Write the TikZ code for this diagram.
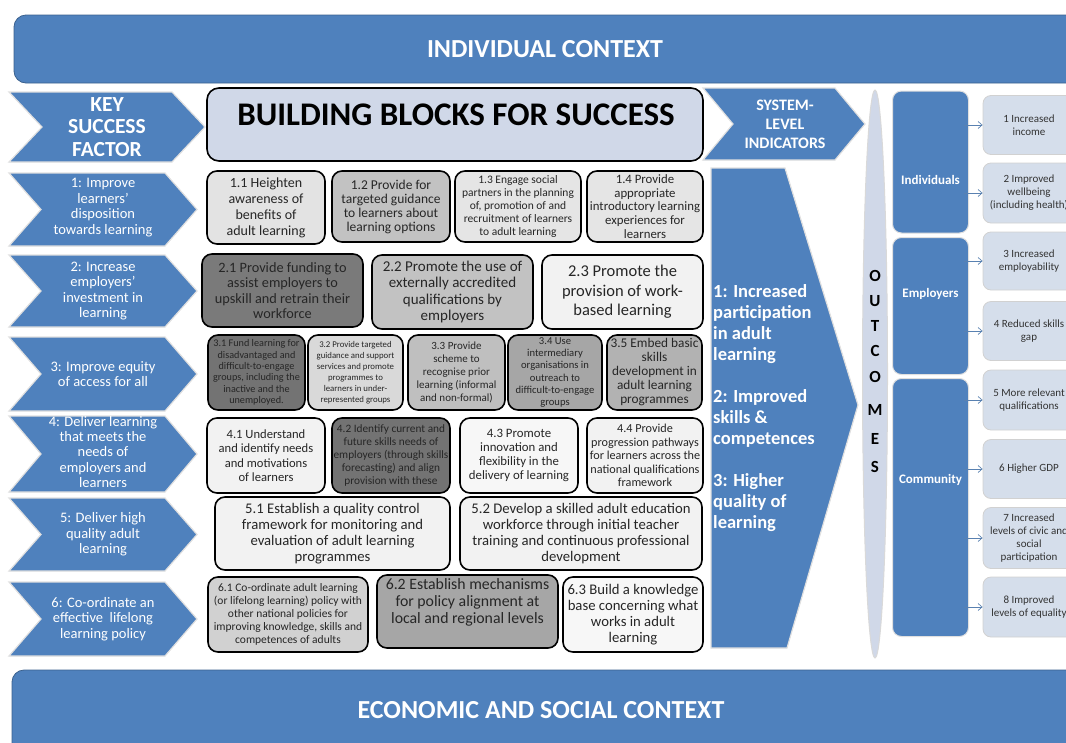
\documentclass[tikz,border=0pt]{standalone}
\usepackage{fontspec}
\setmainfont{Carlito}
\usetikzlibrary{arrows.meta}
\definecolor{obl}{HTML}{4F81BD}
\definecolor{lbl}{HTML}{D0D8E8}
\definecolor{obx}{HTML}{D5DEEB}
\definecolor{txt}{HTML}{262626}
\newcommand\fs[2]{\fontsize{#1}{#2}\selectfont}
\tikzset{
  x=1pt, y=-1pt,
  blk/.style={draw=black, line width=1.6pt, rounded corners=10pt, inner sep=1pt, align=center, text=txt},
  chev/.style={fill=obl, draw=black!12, line width=1.2pt},
  wtxt/.style={text=white, align=center, inner sep=0pt},
  catbox/.style={fill=obl, draw=black!12, line width=1pt, rounded corners=9pt},
  cattxt/.style={text=white, font=\bfseries\fs{13}{15}},
  outbox/.style={fill=obx, draw=black!18, line width=0.8pt, rounded corners=8pt, text=black!80, align=center, font=\fs{11}{13}},
  oarr/.style={draw=obl!80!gray, line width=0.7pt, -{Straight Barb[length=4pt,width=7pt]}},
  banner/.style={fill=obl, draw=obl!75!black, line width=0.8pt, rounded corners=12pt}
}
% name x1 y1 x2 y2 fill font text
\newcommand\blk[8]{\node[blk,fill=#6,minimum width={(#4-#2)*1pt},minimum height={(#5-#3)*1pt},font=#7] (#1) at ({(#2+#4)/2},{(#3+#5)/2}) {#8};}
% name x1 y1 x2 y2 depth
\newcommand\chevr[6]{\draw[chev] (#2,#3) -- ({#4-#6},#3) -- (#4,{(#3+#5)/2}) -- ({#4-#6},#5) -- (#2,#5) -- ({#2+#6},{(#3+#5)/2}) -- cycle;
  \coordinate (#1) at ({(#2+#4)/2},{(#3+#5)/2});}
\begin{document}
\begin{tikzpicture}
\useasboundingbox (0,0) rectangle (1066,742);
\clip (0,0) rectangle (1066,742);

% context banners
\draw[banner] (14,15) rectangle (1090,83);
\node[wtxt, font=\bfseries\fs{26}{30}] (indctx) at (545,49) {INDIVIDUAL CONTEXT};
\draw[banner] (12,670) rectangle (1090,760);
\node[wtxt, font=\bfseries\fs{26}{30}] (ecoctx) at (541,710) {ECONOMIC AND SOCIAL CONTEXT};

% header row
\chevr{ksfc}{9}{92}{205}{162}{33}
\node[wtxt, font=\bfseries\fs{21.5}{22.5}] (ksf) at (ksfc) {KEY\\SUCCESS\\FACTOR};
\node[blk, fill=lbl, minimum width=496pt, minimum height=73pt, rounded corners=12pt] (bbs) at (455,124.5) {};
\node[font=\bfseries\fs{33}{36}, text=black, inner sep=0pt] (bbst) at (456,115) {BUILDING BLOCKS FOR SUCCESS};
\chevr{slic}{703}{88}{865}{160}{30}
\node[wtxt, font=\bfseries\fs{16}{19}] (sli) at (785,124) {SYSTEM-\\LEVEL\\INDICATORS};

% key success factor chevrons
\chevr{k1c}{9}{173}{197}{246}{32}
\node[wtxt, font=\fs{14.5}{15.5}] (k1) at ([yshift=2]k1c) {1: Improve\\learners’\\disposition\\towards learning};
\chevr{k2c}{9}{255}{197}{327}{32}
\node[wtxt, font=\fs{14.5}{15.5}] (k2) at (k2c) {2: Increase\\employers’\\investment in\\learning};
\chevr{k3c}{9}{337}{197}{411}{32}
\node[wtxt, font=\fs{14.5}{15.5}] (k3) at (k3c) {3: Improve equity\\of access for all};
\chevr{k4c}{9}{416}{197}{492}{32}
\node[wtxt, font=\fs{14.5}{15.2}] (k4) at ([yshift=2]k4c) {4: Deliver learning\\that meets the\\needs of\\employers and\\learners};
\chevr{k5c}{9}{498}{197}{571}{32}
\node[wtxt, font=\fs{14.5}{15.5}] (k5) at (k5c) {5: Deliver high\\quality adult\\learning};
\chevr{k6c}{9}{582}{197}{656}{32}
\node[wtxt, font=\fs{14.5}{15.5}] (k6) at (k6c) {6: Co-ordinate an\\effective\ \ lifelong\\learning policy};

% building blocks
\blk{b11}{207}{171}{325}{244}{black!11}{\fs{14}{16}}{1.1 Heighten\\awareness of\\benefits of\\adult learning}
\blk{b12}{332}{171}{450}{242}{black!24}{\fs{13.5}{14}}{1.2 Provide for\\targeted guidance\\to learners about\\learning options}
\blk{b13}{455}{171}{581}{242}{black!10}{\fs{11.5}{12.8}}{1.3 Engage social\\partners in the planning\\of, promotion of and\\recruitment of learners\\to adult learning}
\blk{b14}{587}{171}{703}{242}{black!10}{\fs{12.8}{13.8}}{1.4 Provide\\appropriate\\introductory learning\\experiences for\\learners}

\blk{b21}{202}{254}{363}{327}{black!52}{\fs{14.3}{15.5}}{2.1 Provide funding to\\assist employers to\\upskill and retrain their\\workforce}
\blk{b22}{372}{255}{533}{329}{black!24}{\fs{15}{16.3}}{2.2 Promote the use of\\externally accredited\\qualifications by\\employers}
\blk{b23}{542}{255}{703}{329}{black!5}{\fs{16.5}{19.5}}{2.3 Promote the\\provision of work-\\based learning}

\blk{b31}{208}{335}{305}{410}{black!55}{\fs{10.2}{11.4}}{3.1 Fund learning for\\disadvantaged and\\difficult-to-engage\\groups, including the\\inactive and the\\unemployed.}
\blk{b32}{308}{335}{403}{410}{black!15}{\fs{8.8}{11}}{3.2 Provide targeted\\guidance and support\\services and promote\\programmes to\\learners in under-\\represented groups}
\blk{b33}{408}{335}{505}{410}{black!25}{\fs{11}{13}}{3.3 Provide\\scheme to\\recognise prior\\learning (informal\\and non-formal)}
\blk{b34}{508}{335}{602}{410}{black!35}{\fs{10.6}{12.2}}{3.4 Use\\intermediary\\organisations in\\outreach to\\difficult-to-engage\\groups}
\blk{b35}{607}{335}{702}{410}{black!30}{\fs{13.3}{14}}{3.5 Embed basic\\skills\\development in\\adult learning\\programmes}

\blk{b41}{207}{418}{325}{493}{black!5}{\fs{12.6}{14.5}}{4.1 Understand\\and identify needs\\and motivations\\of learners}
\blk{b42}{332}{418}{450}{493}{black!55}{\fs{11.3}{13}\color{black!72}}{4.2 Identify current and\\future skills needs of\\employers (through skills\\forecasting) and align\\provision with these}
\blk{b43}{460}{418}{578}{493}{black!3}{\fs{12.8}{14}}{4.3 Promote\\innovation and\\flexibility in the\\delivery of learning}
\blk{b44}{587}{418}{703}{493}{black!5}{\fs{12.2}{13.5}}{4.4 Provide\\progression pathways\\for learners across the\\national qualifications\\framework}

\blk{b51}{215}{497}{450}{570}{black!5}{\fs{14.7}{16.2}}{5.1 Establish a quality control\\framework for monitoring and\\evaluation of adult learning\\programmes}
\blk{b52}{460}{497}{702}{570}{black!5}{\fs{14.7}{16.2}}{5.2 Develop a skilled adult education\\workforce through initial teacher\\training and continuous professional\\development}

\blk{b61}{208}{577}{368}{652}{black!18}{\fs{11.5}{13}}{6.1 Co-ordinate adult learning\\(or lifelong learning) policy with\\other national policies for\\improving knowledge, skills and\\competences of adults}
\blk{b62}{377}{575}{558}{648}{black!35}{\fs{15.8}{17}}{6.2 Establish mechanisms\\for policy alignment at\\local and regional levels\\[4pt]}
\blk{b63}{563}{577}{703}{652}{black!3}{\fs{14.7}{16}}{6.3 Build a knowledge\\base concerning what\\works in adult\\learning}

% system-level indicators arrow
\draw[chev] (711,168) -- (785,168) -- (858,405) -- (787,648) -- (711,648) -- cycle;
\node[text=white, align=left, anchor=north west, inner sep=0pt, font=\bfseries\fs{18.5}{21}] (sysind) at (713,284)
  {1: Increased\\participation\\in adult\\learning\\[21pt]2: Improved\\skills \&\\competences\\[21pt]3: Higher\\quality of\\learning};

% outcomes ellipse
\draw[fill=lbl, draw=black!15, line width=1pt] (875,374) ellipse [x radius=12.5, y radius=284];
\foreach \l/\yy [count=\i] in {O/276,U/301,T/326,C/351,O/377,M/410,E/439,S/467}
  \node[font=\bfseries\fs{17}{20}, text=black, inner sep=0pt] (oc\i) at (875,\yy) {\l};

% categories
\node[catbox, minimum width=76pt, minimum height=142pt] (ind) at (930.5,162) {};
\node[cattxt] (indt) at (930.5,180) {Individuals};
\node[catbox, minimum width=76pt, minimum height=137pt] (emp) at (930.5,306) {};
\node[cattxt] (empt) at (930.5,294) {Employers};
\node[catbox, minimum width=76pt, minimum height=258pt] (com) at (930.5,507.5) {};
\node[cattxt] (comt) at (930.5,480) {Community};

% outcome boxes
\node[outbox, minimum width=92pt, minimum height=59pt] (o1) at (1029,125) {1 Increased\\income};
\node[outbox, minimum width=92pt, minimum height=60pt] (o2) at (1029,193) {2 Improved\\wellbeing\\(including health)};
\node[outbox, minimum width=92pt, minimum height=58pt] (o3) at (1029,261) {3 Increased\\employability};
\node[outbox, minimum width=92pt, minimum height=59pt] (o4) at (1029,331) {4 Reduced skills\\gap};
\node[outbox, minimum width=92pt, minimum height=60pt] (o5) at (1029,400) {5 More relevant\\qualifications};
\node[outbox, minimum width=92pt, minimum height=59pt] (o6) at (1029,469) {6 Higher GDP};
\node[outbox, minimum width=92pt, minimum height=61pt] (o7) at (1029,538) {7 Increased\\levels of civic and\\social\\participation};
\node[outbox, minimum width=92pt, minimum height=60pt] (o8) at (1029,607) {8 Improved\\levels of equality};

% arrows
\draw[oarr] ([xshift=-5]ind.east |- o1.west) -- (o1.west);
\draw[oarr] ([xshift=-5]ind.east |- o2.west) -- (o2.west);
\draw[oarr] ([xshift=-5]emp.east |- o3.west) -- (o3.west);
\draw[oarr] ([xshift=-5]emp.east |- o4.west) -- (o4.west);
\draw[oarr] ([xshift=-5]com.east |- o5.west) -- (o5.west);
\draw[oarr] ([xshift=-5]com.east |- o6.west) -- (o6.west);
\draw[oarr] ([xshift=-5]com.east |- o7.west) -- (o7.west);
\draw[oarr] ([xshift=-5]com.east |- o8.west) -- (o8.west);
\end{tikzpicture}
\end{document}
